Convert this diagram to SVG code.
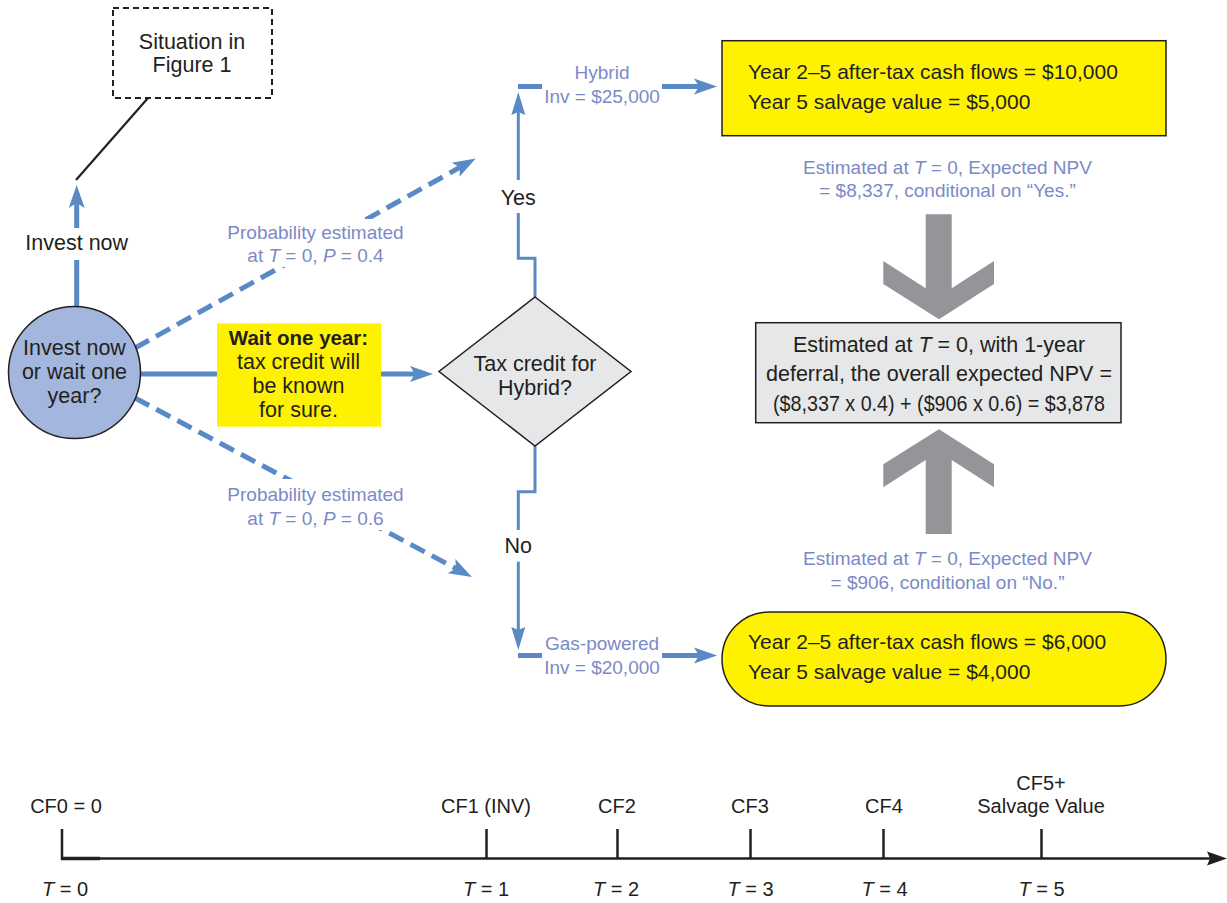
<svg xmlns="http://www.w3.org/2000/svg" width="1227" height="903" viewBox="0 0 1227 903">
<style>
text{font-family:"Liberation Sans",Arial,sans-serif;fill:#231f20}
.k{font-size:21.5px}
.b{font-size:19px;fill:#7b8ac6}
.tl{font-size:20px}
.m{text-anchor:middle}
.i{font-style:italic}
.bl{stroke:#5a8ac6;fill:none}
.thick{stroke-width:5}
.thin{stroke-width:3}
.dash{stroke-width:5;stroke-dasharray:16 8}
.ax{stroke:#231f20;stroke-width:2.5;fill:none}
.node{stroke:#231f20;stroke-width:1.5}
.garr{fill:#939598}
</style>
<defs>
<marker id="ah" markerUnits="userSpaceOnUse" markerWidth="30" markerHeight="20" viewBox="-6 -10 30 20" refX="0" refY="0" orient="auto">
<path d="M18,0 L-5,-8 L0,0 L-5,8 Z" fill="#5a8ac6"/>
</marker>
<marker id="ahs" markerUnits="userSpaceOnUse" markerWidth="30" markerHeight="20" viewBox="-6 -10 30 20" refX="0" refY="0" orient="auto">
<path d="M20,0 L-3,-7 L0,0 L-3,7 Z" fill="#5a8ac6"/>
</marker>
<marker id="ahk" markerUnits="userSpaceOnUse" markerWidth="30" markerHeight="20" viewBox="-6 -10 30 20" refX="0" refY="0" orient="auto">
<path d="M17,0 L-3,-7 L0,0 L-3,7 Z" fill="#231f20"/>
</marker>
</defs>

<g id="connectors">
<line x1="148" y1="98" x2="76" y2="180" stroke="#231f20" stroke-width="2.2"/>
<line class="bl thick" x1="76.7" y1="307" x2="76.7" y2="260"/>
<line class="bl thick" x1="76.7" y1="228" x2="76.7" y2="203" marker-end="url(#ah)"/>
<text class="k m" x="76.7" y="249.5">Invest now</text>

<line class="bl thick" x1="141" y1="374" x2="415" y2="374" marker-end="url(#ah)"/>

<line class="bl dash" x1="135" y1="348" x2="460" y2="167.3" marker-end="url(#ah)"/>
<line class="bl dash" x1="135" y1="398" x2="456" y2="568.5" marker-end="url(#ah)"/>
<rect x="222" y="219" width="188" height="48" fill="#fff"/>
<text class="b m" x="315.5" y="238.5">Probability estimated</text>
<text class="b m" x="315.5" y="262">at <tspan class="i">T</tspan> = 0, <tspan class="i">P</tspan> = 0.4</text>
<rect x="222" y="479" width="188" height="51" fill="#fff"/>
<text class="b m" x="315.5" y="500.5">Probability estimated</text>
<text class="b m" x="315.5" y="524.5">at <tspan class="i">T</tspan> = 0, <tspan class="i">P</tspan> = 0.6</text>

<path class="bl thin" d="M535,297 V258.3 H518.3 V213"/>
<line class="bl thin" x1="518.3" y1="180" x2="518.3" y2="112" marker-end="url(#ahs)"/>
<text class="k m" x="518.3" y="205">Yes</text>
<path class="bl thin" d="M535,446 V491.7 H518.3 V530"/>
<line class="bl thin" x1="518.3" y1="561.7" x2="518.3" y2="630" marker-end="url(#ahs)"/>
<text class="k m" x="518.3" y="553">No</text>

<line class="bl thick" x1="518" y1="86.5" x2="542" y2="86.5"/>
<line class="bl thick" x1="662" y1="86.5" x2="699" y2="86.5" marker-end="url(#ah)"/>
<text class="b m" x="602" y="79">Hybrid</text>
<text class="b m" x="602" y="103">Inv = $25,000</text>
<line class="bl thick" x1="518" y1="655.5" x2="542" y2="655.5"/>
<line class="bl thick" x1="662" y1="655.5" x2="699" y2="655.5" marker-end="url(#ah)"/>
<text class="b m" x="602" y="650">Gas-powered</text>
<text class="b m" x="602" y="673.5">Inv = $20,000</text>

<polygon class="garr" points="925.7,214.3 951.7,214.3 951.7,288.3 994,261 994,284 939,319.3 883.3,284 883.3,261 925.7,288.3"/>
<polygon class="garr" points="939,429.3 994,464.3 994,487.3 951.7,460 951.7,534 925.7,534 925.7,460 883.3,487.3 883.3,464.3"/>
<text class="b m" x="947.5" y="173.5">Estimated at <tspan class="i">T</tspan> = 0, Expected NPV</text>
<text class="b m" x="947.5" y="197">= $8,337, conditional on “Yes.”</text>
<text class="b m" x="947.5" y="565">Estimated at <tspan class="i">T</tspan> = 0, Expected NPV</text>
<text class="b m" x="947.5" y="588.5">= $906, conditional on “No.”</text>
</g>

<g id="n-situation">
<rect x="113" y="8" width="159" height="90" fill="#fff" stroke="#231f20" stroke-width="2" stroke-dasharray="6 4"/>
<text class="k m" x="192" y="48.5">Situation in</text>
<text class="k m" x="192" y="72">Figure 1</text>
</g>

<g id="n-decision">
<circle class="node" cx="74.5" cy="372.5" r="66" fill="#a3b6dd"/>
<text class="k m" x="74.5" y="355">Invest now</text>
<text class="k m" x="74.5" y="379">or wait one</text>
<text class="k m" x="74.5" y="402.5">year?</text>
</g>

<g id="n-wait">
<rect x="217" y="323.3" width="164" height="103.4" fill="#fff200"/>
<text class="m" x="298.5" y="345" style="font-size:20.5px;font-weight:bold">Wait one year:</text>
<text class="k m" x="298.5" y="369.3">tax credit will</text>
<text class="k m" x="298.5" y="393.3">be known</text>
<text class="k m" x="298.5" y="417.3">for sure.</text>
</g>

<g id="n-taxcredit">
<polygon class="node" points="535,297 631,371.5 535,446 439,371.5" fill="#e6e7e8"/>
<text class="k m" x="535" y="370.5">Tax credit for</text>
<text class="k m" x="535" y="394.5">Hybrid?</text>
</g>

<g id="n-hybrid">
<rect class="node" x="722" y="40.7" width="444" height="95" fill="#fff200"/>
<text class="k" x="748" y="79" style="font-size:21px">Year 2–5 after-tax cash flows = $10,000</text>
<text class="k" x="748" y="109" style="font-size:21px">Year 5 salvage value = $5,000</text>
</g>

<g id="n-gas">
<rect class="node" x="722" y="612" width="444" height="94" rx="47" ry="47" fill="#fff200"/>
<text class="k" x="748" y="649" style="font-size:21px">Year 2–5 after-tax cash flows = $6,000</text>
<text class="k" x="748" y="679" style="font-size:21px">Year 5 salvage value = $4,000</text>
</g>

<g id="n-overall">
<rect class="node" x="755.7" y="322.7" width="365.3" height="100" fill="#e6e7e8"/>
<text class="k m" x="939" y="352">Estimated at <tspan class="i">T</tspan> = 0, with 1-year</text>
<text class="k m" x="939" y="381">deferral, the overall expected NPV =</text>
<text class="k m" x="939" y="411" textLength="332" lengthAdjust="spacingAndGlyphs">($8,337 x 0.4) + ($906 x 0.6) = $3,878</text>
</g>

<g id="timeline">
<line class="ax" x1="61" y1="858.5" x2="1210" y2="858.5" marker-end="url(#ahk)"/>
<line x1="61" y1="858.5" x2="100" y2="858.5" stroke="#231f20" stroke-width="3.5"/>
<line class="ax" x1="62" y1="829" x2="62" y2="859.7"/>
<line class="ax" x1="486.5" y1="829" x2="486.5" y2="858.5"/>
<line class="ax" x1="617.5" y1="829" x2="617.5" y2="858.5"/>
<line class="ax" x1="750.5" y1="829" x2="750.5" y2="858.5"/>
<line class="ax" x1="883.5" y1="829" x2="883.5" y2="858.5"/>
<line class="ax" x1="1041.5" y1="829" x2="1041.5" y2="858.5"/>
<text class="tl m" x="66" y="813">CF0 = 0</text>
<text class="tl m" x="486" y="813">CF1 (INV)</text>
<text class="tl m" x="617" y="813">CF2</text>
<text class="tl m" x="750" y="813">CF3</text>
<text class="tl m" x="884" y="813">CF4</text>
<text class="tl m" x="1041" y="790">CF5+</text>
<text class="tl m" x="1041" y="813">Salvage Value</text>
<text class="tl m" x="65" y="896"><tspan class="i">T</tspan> = 0</text>
<text class="tl m" x="486" y="896"><tspan class="i">T</tspan> = 1</text>
<text class="tl m" x="616" y="896"><tspan class="i">T</tspan> = 2</text>
<text class="tl m" x="750.5" y="896"><tspan class="i">T</tspan> = 3</text>
<text class="tl m" x="884.5" y="896"><tspan class="i">T</tspan> = 4</text>
<text class="tl m" x="1041.5" y="896"><tspan class="i">T</tspan> = 5</text>
</g>
</svg>
